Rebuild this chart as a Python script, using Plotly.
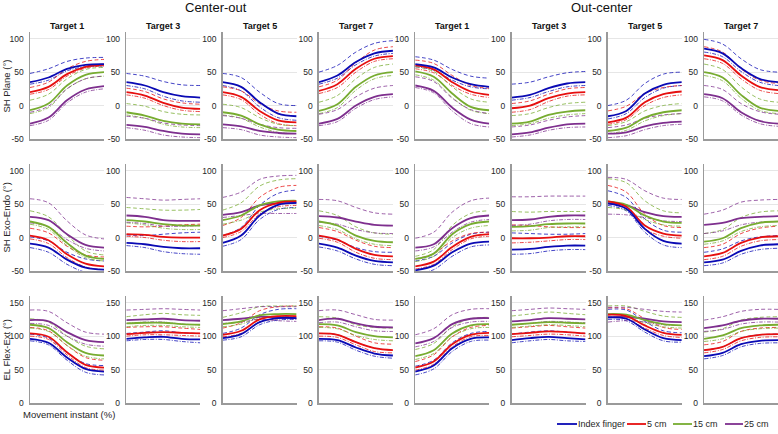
import plotly.graph_objects as go

# ---------------- data ----------------
x_pct = [0, 25, 50, 75, 100]  # movement instant (%) sample points
sizes = ["Index finger", "5 cm", "15 cm", "25 cm"]
colors = ["#0a0ab4", "#e60f0f", "#77ac30", "#7e2f8e"]
panel_titles = ["Target 1", "Target 3", "Target 5", "Target 7",
                "Target 1", "Target 3", "Target 5", "Target 7"]
group_titles = ["Center-out", "Out-center"]
row_labels = ["SH Plane (°)", "SH Exo-Endo (°)", "EL Flex-Ext (°)"]
row_ticks = [[-50, 0, 50, 100], [-50, 0, 50, 100], [0, 50, 100, 150]]
row_ticktext = [["-50", "0", "50", "100"], ["-50", "0", "50", "100"], ["0", "50", "100", "150"]]
row_ranges = [[-50, 110], [-50, 110], [0, 160]]

# each array: 8 panels x 4 sizes x 5 samples
sh_plane_mean = [
    [[35, 42, 55, 61, 62], [20, 28, 47, 58, 61], [-7, 3, 30, 46, 50], [-27, -18, 8, 24, 29]],
    [[35, 30, 20, 14, 12], [20, 15, 4, -3, -5], [-10, -15, -23, -27, -28], [-29, -32, -38, -42, -43]],
    [[35, 28, 5, -12, -16], [20, 13, -8, -22, -25], [-10, -15, -28, -36, -38], [-28, -31, -38, -41, -42]],
    [[35, 45, 65, 78, 82], [22, 32, 55, 70, 74], [-8, 2, 28, 45, 50], [-27, -20, 0, 13, 17]],
    [[62, 57, 42, 32, 28], [60, 54, 35, 21, 16], [51, 43, 18, -2, -7], [30, 22, -3, -21, -27]],
    [[12, 16, 26, 33, 35], [-4, 0, 11, 18, 20], [-27, -24, -14, -9, -7], [-43, -40, -33, -28, -27]],
    [[-16, -8, 18, 31, 35], [-25, -18, 5, 17, 21], [-38, -33, -18, -10, -7], [-42, -40, -31, -26, -24]],
    [[85, 78, 56, 40, 35], [75, 68, 45, 28, 23], [50, 42, 16, -3, -8], [17, 11, -10, -23, -27]],
]
sh_plane_upper = [
    [[48, 55, 66, 71, 72], [27, 35, 55, 66, 69], [8, 17, 40, 54, 57], [-10, -1, 25, 40, 44]],
    [[48, 44, 36, 31, 30], [26, 21, 10, 4, 2], [3, -1, -9, -13, -14], [-16, -19, -26, -29, -30]],
    [[48, 42, 20, 3, 0], [28, 22, 3, -8, -10], [2, -3, -18, -28, -30], [-15, -19, -28, -33, -34]],
    [[50, 60, 80, 93, 97], [28, 38, 64, 83, 88], [5, 15, 40, 57, 62], [-13, -6, 13, 26, 30]],
    [[73, 68, 54, 44, 41], [68, 63, 45, 30, 26], [58, 51, 28, 10, 5], [43, 36, 11, -6, -12]],
    [[32, 35, 43, 49, 51], [3, 7, 17, 25, 27], [-15, -12, -3, 3, 5], [-32, -29, -22, -17, -15]],
    [[0, 8, 33, 47, 50], [-8, -1, 18, 27, 30], [-30, -24, -8, 0, 3], [-33, -29, -19, -14, -12]],
    [[99, 92, 70, 54, 50], [88, 80, 55, 38, 33], [62, 54, 28, 10, 5], [30, 24, 3, -9, -13]],
]
sh_plane_lower = [
    [[32, 38, 52, 58, 59], [17, 24, 44, 56, 59], [-12, -3, 25, 40, 44], [-30, -22, 4, 20, 25]],
    [[30, 25, 14, 7, 5], [16, 11, 0, -7, -9], [-14, -19, -28, -32, -33], [-33, -37, -44, -47, -48]],
    [[30, 22, -2, -18, -22], [16, 9, -13, -27, -30], [-14, -19, -32, -40, -42], [-33, -36, -44, -47, -48]],
    [[32, 41, 61, 74, 78], [18, 27, 50, 66, 70], [-12, -3, 23, 40, 45], [-30, -24, -4, 9, 13]],
    [[58, 53, 38, 28, 25], [55, 49, 30, 17, 12], [46, 38, 12, -7, -12], [27, 19, -8, -27, -32]],
    [[8, 12, 21, 28, 30], [-10, -6, 6, 14, 16], [-30, -27, -19, -14, -12], [-47, -44, -37, -33, -32]],
    [[-20, -12, 12, 26, 30], [-28, -21, 0, 12, 16], [-42, -37, -23, -15, -12], [-48, -45, -36, -30, -28]],
    [[80, 73, 51, 35, 30], [70, 63, 40, 23, 18], [45, 37, 11, -7, -12], [13, 7, -14, -27, -31]],
]

sh_exo_mean = [
    [[-9, -15, -33, -45, -48], [3, -4, -25, -39, -43], [24, 16, -8, -27, -32], [31, 26, 5, -11, -15]],
    [[-8, -10, -14, -16, -16], [5, 4, 1, 0, 0], [26, 24, 20, 18, 18], [33, 31, 26, 25, 25]],
    [[-8, 3, 33, 49, 52], [3, 13, 41, 52, 54], [26, 33, 48, 54, 55], [34, 38, 48, 51, 52]],
    [[-9, -15, -27, -35, -37], [3, -3, -17, -26, -28], [24, 18, 3, -5, -7], [32, 30, 24, 19, 18]],
    [[-49, -42, -22, -9, -6], [-43, -36, -14, 1, 5], [-32, -24, 5, 20, 24], [-15, -10, 14, 29, 33]],
    [[-18, -17, -14, -12, -12], [-1, -1, 0, 2, 2], [16, 17, 20, 21, 21], [26, 27, 31, 33, 33]],
    [[51, 43, 13, -5, -9], [54, 46, 18, 6, 3], [54, 49, 33, 24, 22], [51, 48, 38, 32, 31]],
    [[-37, -33, -20, -12, -10], [-28, -23, -8, 0, 2], [-6, -1, 14, 22, 24], [19, 22, 29, 31, 32]],
]
sh_exo_upper = [
    [[1, -5, -22, -32, -35], [14, 7, -13, -26, -29], [40, 31, 4, -20, -26], [58, 52, 25, 4, -2]],
    [[4, 3, 5, 7, 8], [17, 16, 17, 19, 20], [45, 43, 41, 41, 42], [60, 58, 56, 57, 58]],
    [[3, 15, 48, 66, 71], [18, 30, 60, 75, 78], [41, 52, 77, 86, 88], [60, 68, 87, 92, 93]],
    [[2, -4, -15, -21, -22], [15, 9, -4, -13, -15], [40, 33, 16, 7, 5], [57, 55, 45, 37, 35]],
    [[-35, -28, -8, 5, 8], [-32, -24, -5, 6, 8], [-28, -18, 18, 36, 40], [-1, 8, 38, 55, 59]],
    [[7, 6, 5, 5, 6], [19, 18, 16, 15, 15], [39, 38, 39, 39, 39], [61, 61, 62, 62, 62]],
    [[70, 60, 28, 11, 8], [78, 68, 35, 18, 15], [88, 82, 55, 40, 37], [90, 87, 70, 59, 57]],
    [[-22, -17, -5, 1, 3], [-15, -10, 6, 14, 17], [6, 12, 30, 38, 40], [35, 41, 53, 56, 57]],
]
sh_exo_lower = [
    [[-15, -22, -40, -52, -55], [-2, -9, -30, -44, -48], [20, 12, -12, -30, -35], [22, 16, -3, -16, -20]],
    [[-12, -15, -21, -24, -25], [2, 0, -4, -6, -6], [22, 19, 14, 12, 12], [23, 21, 17, 17, 18]],
    [[-13, -3, 27, 42, 45], [0, 9, 35, 46, 48], [20, 26, 38, 43, 44], [30, 33, 36, 36, 36]],
    [[-14, -20, -32, -40, -42], [-1, -7, -22, -31, -33], [18, 12, -2, -10, -12], [23, 20, 12, 7, 6]],
    [[-55, -48, -28, -14, -11], [-47, -40, -18, -2, 2], [-36, -28, 0, 14, 18], [-20, -14, 8, 23, 27]],
    [[-25, -24, -20, -18, -18], [-8, -7, -5, -3, -3], [10, 11, 15, 16, 16], [18, 20, 25, 27, 27]],
    [[48, 40, 8, -11, -15], [51, 43, 13, 2, -1], [45, 41, 27, 19, 17], [35, 34, 30, 25, 24]],
    [[-42, -38, -25, -18, -16], [-33, -28, -13, -5, -3], [-10, -5, 9, 16, 18], [6, 10, 19, 23, 24]],
]

el_flex_mean = [
    [[96, 90, 68, 51, 47], [104, 99, 76, 57, 53], [117, 112, 91, 75, 71], [124, 122, 106, 94, 91]],
    [[96, 98, 99, 96, 95], [103, 105, 106, 105, 104], [119, 120, 120, 118, 117], [124, 125, 126, 124, 123]],
    [[97, 103, 121, 127, 127], [102, 108, 125, 130, 130], [118, 122, 131, 133, 133], [124, 126, 129, 128, 127]],
    [[96, 94, 83, 74, 71], [104, 102, 91, 82, 79], [118, 116, 106, 100, 98], [124, 126, 119, 114, 113]],
    [[47, 56, 82, 96, 98], [53, 62, 88, 102, 105], [70, 79, 104, 116, 118], [89, 97, 118, 126, 127]],
    [[94, 97, 99, 97, 95], [103, 105, 107, 106, 104], [117, 119, 121, 120, 119], [122, 124, 127, 126, 125]],
    [[128, 126, 110, 97, 94], [132, 130, 116, 105, 102], [133, 132, 124, 118, 116], [128, 129, 126, 122, 121]],
    [[70, 75, 88, 93, 94], [79, 84, 97, 102, 103], [96, 101, 112, 116, 117], [112, 116, 123, 126, 126]],
]
el_flex_upper = [
    [[103, 97, 75, 59, 56], [113, 108, 86, 68, 64], [126, 121, 100, 85, 81], [139, 137, 120, 106, 103]],
    [[104, 106, 108, 105, 104], [113, 114, 114, 112, 110], [129, 132, 134, 132, 131], [139, 140, 141, 140, 139]],
    [[104, 112, 132, 140, 141], [112, 120, 138, 144, 145], [128, 135, 144, 145, 145], [138, 141, 144, 144, 144]],
    [[104, 102, 91, 82, 79], [114, 112, 100, 90, 88], [129, 127, 117, 113, 112], [138, 139, 132, 125, 124]],
    [[55, 64, 90, 104, 107], [62, 72, 99, 113, 116], [80, 89, 114, 126, 128], [102, 111, 132, 140, 141]],
    [[103, 106, 108, 106, 104], [112, 114, 116, 114, 112], [130, 133, 136, 134, 132], [138, 140, 142, 141, 140]],
    [[140, 139, 122, 108, 105], [142, 141, 126, 113, 110], [145, 145, 137, 130, 128], [143, 143, 140, 137, 136]],
    [[79, 84, 97, 102, 103], [87, 92, 107, 112, 113], [106, 111, 124, 128, 129], [124, 129, 137, 140, 140]],
]
el_flex_lower = [
    [[93, 87, 64, 46, 42], [100, 95, 72, 53, 49], [112, 107, 86, 70, 66], [119, 116, 100, 88, 85]],
    [[93, 95, 95, 92, 90], [100, 102, 102, 101, 100], [114, 116, 116, 114, 113], [119, 121, 121, 118, 117]],
    [[94, 99, 117, 124, 125], [99, 104, 121, 126, 126], [114, 118, 127, 129, 129], [119, 121, 125, 123, 122]],
    [[93, 91, 79, 70, 67], [100, 98, 87, 77, 75], [113, 111, 101, 95, 93], [120, 121, 114, 108, 107]],
    [[42, 51, 77, 92, 94], [49, 58, 84, 99, 101], [65, 74, 99, 111, 113], [84, 92, 113, 121, 122]],
    [[90, 93, 95, 93, 92], [99, 101, 103, 102, 100], [113, 115, 117, 116, 114], [117, 119, 122, 121, 120]],
    [[125, 123, 106, 93, 91], [128, 126, 112, 101, 98], [129, 128, 120, 114, 112], [121, 123, 121, 117, 116]],
    [[66, 71, 84, 89, 90], [75, 80, 93, 98, 99], [92, 96, 107, 111, 112], [107, 110, 118, 121, 121]],
]

rows_data = [
    (sh_plane_mean, sh_plane_upper, sh_plane_lower),
    (sh_exo_mean, sh_exo_upper, sh_exo_lower),
    (el_flex_mean, el_flex_upper, el_flex_lower),
]

# ---------------- layout geometry (pixels) ----------------
W, H = 778, 434
ML, MR, MT, MB = 30, 0, 32, 31
PW, PH = W - ML - MR, H - MT - MB
col_left = [30 + 96.3 * c for c in range(8)]
col_w = 74
row_top = [32, 164, 296]
row_h = 107


def pxx(x):
    return (x - ML) / PW


def pxy(y):
    return (H - MB - y) / PH


GRID = "#e6e6e6"
AXC = "#9a9a9a"
TXT = "#262626"
FONT = "Liberation Sans, Arial, Helvetica, sans-serif"

fig = go.Figure()
layout = {}

for r in range(3):
    mean, upper, lower = rows_data[r]
    for c in range(8):
        k = r * 8 + c + 1
        xa = "x" if k == 1 else f"x{k}"
        ya = "y" if k == 1 else f"y{k}"
        x0 = col_left[c]
        dom_x = [max(0, pxx(x0)), min(1, pxx(x0 + col_w))]
        dom_y = [pxy(row_top[r] + row_h), pxy(row_top[r])]
        layout["xaxis" if k == 1 else f"xaxis{k}"] = dict(
            domain=dom_x, anchor=ya, range=[0, 100], showgrid=False,
            zeroline=False, showticklabels=False, ticks="",
            showline=True, linecolor=AXC, linewidth=1.5, fixedrange=True)
        layout["yaxis" if k == 1 else f"yaxis{k}"] = dict(
            domain=dom_y, anchor=xa, range=row_ranges[r],
            tickvals=row_ticks[r], ticktext=row_ticktext[r],
            showgrid=True, gridcolor=GRID, gridwidth=1,
            zeroline=False, showline=True, linecolor=AXC, linewidth=1.5,
            ticks="", tickfont=dict(size=8.5, color=TXT, family=FONT),
            ticklabelstandoff=3, fixedrange=True)
        # bounds first (dashed upper, dash-dot lower), then means on top
        for s in range(4):
            fig.add_trace(go.Scatter(
                x=x_pct, y=upper[c][s], mode="lines", xaxis=xa, yaxis=ya,
                line=dict(color=colors[s], width=0.9, dash="4px,2.5px",
                          shape="spline", smoothing=1.0),
                opacity=0.85, showlegend=False, hoverinfo="skip"))
            fig.add_trace(go.Scatter(
                x=x_pct, y=lower[c][s], mode="lines", xaxis=xa, yaxis=ya,
                line=dict(color=colors[s], width=0.9, dash="4px,1.5px,1px,1.5px",
                          shape="spline", smoothing=1.0),
                opacity=0.85, showlegend=False, hoverinfo="skip"))
        for s in range(3, -1, -1):
            fig.add_trace(go.Scatter(
                x=x_pct, y=mean[c][s], mode="lines", xaxis=xa, yaxis=ya,
                line=dict(color=colors[s], width=1.8, shape="spline", smoothing=1.0),
                name=sizes[s], showlegend=False))

annotations = []
shapes = []
# panel titles
for c in range(8):
    annotations.append(dict(
        x=pxx(col_left[c] + col_w / 2), y=pxy(26), xref="paper", yref="paper",
        text=f"<b>{panel_titles[c]}</b>", showarrow=False,
        font=dict(size=9, color="#111", family=FONT),
        xanchor="center", yanchor="middle"))
# group titles
for g, xc in zip(group_titles, [216, 602]):
    annotations.append(dict(
        x=pxx(xc), y=pxy(7), xref="paper", yref="paper", text=g, showarrow=False,
        font=dict(size=13, color="#111", family=FONT),
        xanchor="center", yanchor="middle"))
# row labels
for r in range(3):
    annotations.append(dict(
        x=pxx(6), y=pxy(row_top[r] + row_h / 2), xref="paper", yref="paper",
        text=row_labels[r], showarrow=False, textangle=-90,
        font=dict(size=9.5, color=TXT, family=FONT),
        xanchor="center", yanchor="middle"))
# x label
annotations.append(dict(
    x=pxx(21), y=pxy(414), xref="paper", yref="paper", text="Movement instant (%)",
    showarrow=False, font=dict(size=9.5, color=TXT, family=FONT),
    xanchor="left", yanchor="middle"))
# legend (manual)
leg_line = [(557, 577), (627, 646), (673, 692), (725, 743)]
leg_y = 424
for s in range(4):
    a, b = leg_line[s]
    shapes.append(dict(type="line", xref="paper", yref="paper",
                       x0=pxx(a), x1=pxx(b), y0=pxy(leg_y), y1=pxy(leg_y),
                       line=dict(color=colors[s], width=1.8)))
    annotations.append(dict(
        x=pxx(b + 1), y=pxy(leg_y), xref="paper", yref="paper", text=sizes[s],
        showarrow=False, font=dict(size=9, color=TXT, family=FONT),
        xanchor="left", yanchor="middle", xshift=-2))

fig.update_layout(
    **layout,
    width=W, height=H,
    margin=dict(l=ML, r=MR, t=MT, b=MB, pad=0),
    paper_bgcolor="white", plot_bgcolor="white",
    showlegend=False,
    annotations=annotations, shapes=shapes,
    font=dict(family=FONT, color=TXT),
)

fig.write_html(
    "out.html",
    config={"displayModeBar": False, "staticPlot": True},
    post_script="document.body.style.margin='0';document.body.style.overflow='hidden';",
)
